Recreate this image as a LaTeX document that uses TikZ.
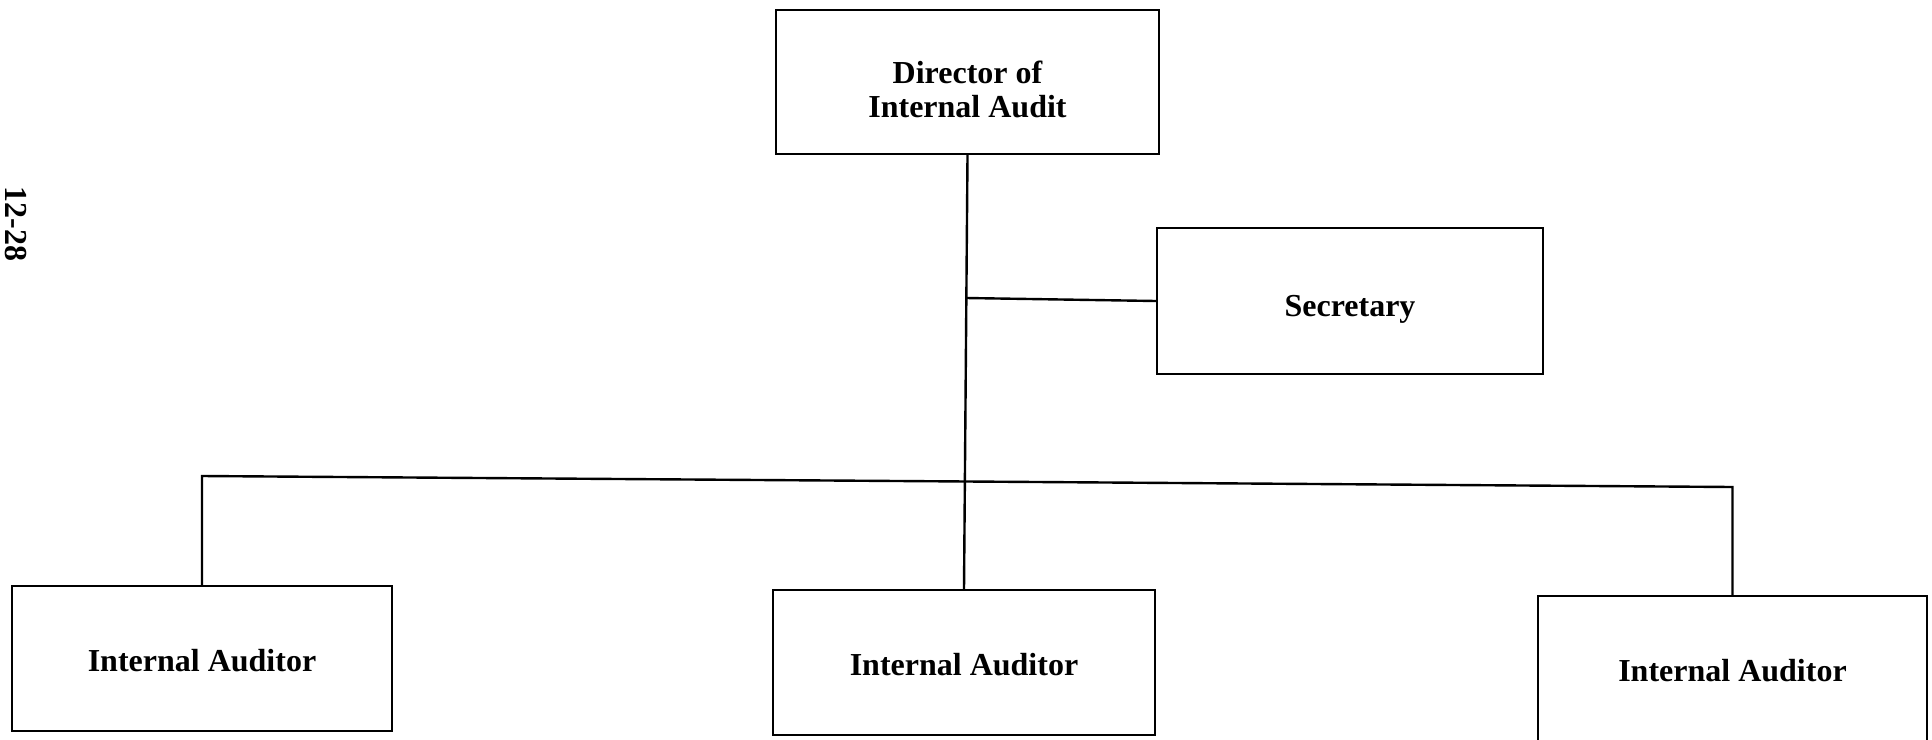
\documentclass[tikz,border=0pt]{standalone}
\usepackage{fontspec}
\setmainfont{Liberation Serif}
\begin{document}
\begin{tikzpicture}[x=1pt,y=-1pt,
  line width=2.4pt,
  boxtext/.style={align=center, inner sep=0pt,
    font=\bfseries\fontsize{32}{34}\selectfont},
  orgbox/.style={draw, rectangle, inner sep=0pt},
  link/.style={draw, line width=2.4pt}]
\useasboundingbox (0,0) rectangle (1932,739);
\clip (0,0) rectangle (1932,739);

% page number printed sideways in the margin
\node[rotate=-90, boxtext] (pagenum) at (16,224) {12-28};

% boxes, each with its title set a little below the centre
\node[orgbox, minimum width=383pt, minimum height=144pt,
  label={[boxtext, yshift=-7pt]center:Director of\\Internal Audit}] (dir) at (967.5,82) {};
\node[orgbox, minimum width=386pt, minimum height=146pt,
  label={[boxtext, yshift=-8pt]center:Secretary}] (sec) at (1350,301) {};
\node[orgbox, minimum width=380pt, minimum height=145pt,
  label={[boxtext, yshift=-2pt]center:Internal Auditor}] (aud1) at (202,658.5) {};
\node[orgbox, minimum width=382pt, minimum height=145pt,
  label={[boxtext, yshift=-2pt]center:Internal Auditor}] (aud2) at (964,662.5) {};
\node[orgbox, minimum width=389pt, minimum height=145pt,
  label={[boxtext, yshift=-2pt]center:Internal Auditor}] (aud3) at (1732.5,668.5) {};

% junction points on the trunk and the bus
\coordinate (jsec) at (966.3,298);
\coordinate (bleft) at (202,476);
\coordinate (bright) at (1732.5,487);

% connectors
\draw[link] (dir.south) -- (aud2.north);
\draw[link] (jsec) -- (sec.west);
\draw[link] (aud1.north) -- (bleft) -- (bright) -- (aud3.north);
\end{tikzpicture}
\end{document}
